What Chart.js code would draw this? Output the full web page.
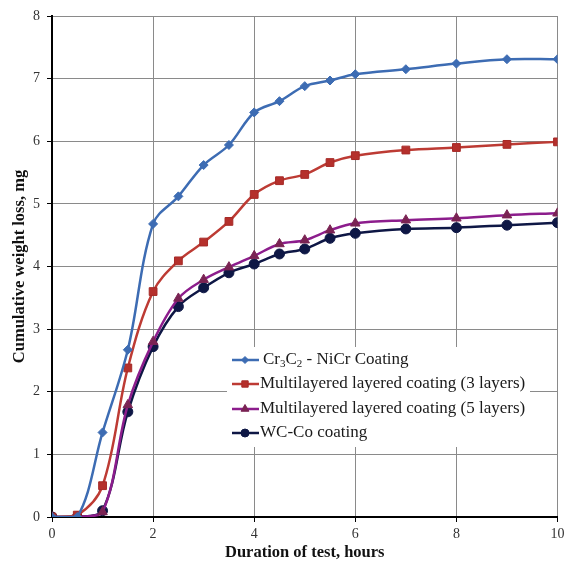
<!DOCTYPE html>
<html>
<head>
<meta charset="utf-8">
<script src="https://cdn.jsdelivr.net/npm/chart.js@4/dist/chart.umd.min.js"></script>
<style>
  body { margin: 0; background: #fff; }
  canvas { display: block; }
</style>
</head>
<body>
<canvas id="chart" width="564" height="563"></canvas>
<script>
// values
var hours = [0, 0.5, 1, 1.5, 2, 2.5, 3, 3.5, 4, 4.5, 5, 5.5, 6, 7, 8, 9, 10];
var cr3c2 = [0, 0, 1.35, 2.67, 4.68, 5.12, 5.62, 5.94, 6.46, 6.64, 6.88, 6.97, 7.07, 7.15, 7.24, 7.31, 7.31];
var layers3 = [0, 0.03, 0.5, 2.38, 3.6, 4.09, 4.39, 4.72, 5.15, 5.37, 5.47, 5.66, 5.77, 5.86, 5.90, 5.95, 5.99];
var layers5 = [0, 0, 0.08, 1.79, 2.8, 3.49, 3.79, 3.99, 4.17, 4.36, 4.42, 4.58, 4.69, 4.74, 4.77, 4.82, 4.85];
var wcco = [0, 0, 0.1, 1.68, 2.72, 3.36, 3.66, 3.90, 4.04, 4.20, 4.28, 4.45, 4.53, 4.60, 4.62, 4.66, 4.70];

var seriesNames = ['Cr3C2 - NiCr Coating', 'Multilayered layered coating (3 layers)',
  'Multilayered layered coating (5 layers)', 'WC-Co coating'];

function toPoints(vals) {
  return vals.map(function(v, i) {
    return { x: hours[i], y: v };
  });
}

var serif = "'Liberation Serif', 'DejaVu Serif', serif";

// legend box drawn inside the plot, like the original
var legendBox = {
  id: 'legendBox',
  afterDatasetsDraw: function(chart) {
    var ctx = chart.ctx;
    ctx.save();
    ctx.fillStyle = '#fff';
    ctx.fillRect(227, 347, 303, 100);
    var rows = [360, 384, 409, 433];
    chart.data.datasets.forEach(function(ds, i) {
      var y = rows[i];
      ctx.strokeStyle = ds.borderColor;
      ctx.lineWidth = 2.5;
      ctx.beginPath();
      ctx.moveTo(232, y);
      ctx.lineTo(259, y);
      ctx.stroke();
      ctx.fillStyle = ds.pointBackgroundColor;
      ctx.strokeStyle = ds.pointBorderColor;
      ctx.lineWidth = 1;
      Chart.helpers.drawPoint(ctx, {
        pointStyle: ds.pointStyle,
        radius: ds.pointRadius - 1,
        rotation: 0,
        borderWidth: 1
      }, 245, y);

      ctx.fillStyle = '#1a1a1a';
      ctx.textBaseline = 'middle';
      ctx.textAlign = 'left';
      var big = '17px ' + serif, small = '11px ' + serif;
      if (i === 0) {
        // Cr3C2 with subscripts
        var parts = [['Cr', big, 0], ['3', small, 4], ['C', big, 0], ['2', small, 4], [' - NiCr Coating', big, 0]];
        var tx = 263;
        parts.forEach(function(p) {
          ctx.font = p[1];
          ctx.fillText(p[0], tx, y + p[2]);
          tx += ctx.measureText(p[0]).width;
        });
      } else {
        ctx.font = big;
        ctx.fillText(seriesNames[i], 260, y);
      }
    });
    ctx.restore();
  }
};

var chart = new Chart('chart', {
  type: 'line',
  data: {
    datasets: [
      {
        label: seriesNames[0],
        data: toPoints(cr3c2),
        borderColor: '#3d6cb3',
        pointBackgroundColor: '#3d6cb3',
        pointBorderColor: '#3d6cb3',
        pointStyle: 'rectRot',
        pointRadius: 4.5
      },
      {
        label: seriesNames[1],
        data: toPoints(layers3),
        borderColor: '#bd3b34',
        pointBackgroundColor: '#b5302c',
        pointBorderColor: '#a62a27',
        pointStyle: 'rect',
        pointRadius: 5.5
      },
      {
        label: seriesNames[2],
        data: toPoints(layers5),
        borderColor: '#8c1d8c',
        pointBackgroundColor: '#7a2353',
        pointBorderColor: '#7a2353',
        pointStyle: 'triangle',
        pointRadius: 5.5
      },
      {
        label: seriesNames[3],
        data: toPoints(wcco),
        borderColor: '#0e1745',
        pointBackgroundColor: '#0e1745',
        pointBorderColor: '#0e1745',
        pointStyle: 'circle',
        pointRadius: 5
      }
    ]
  },
  options: {
    responsive: false,
    animation: false,
    layout: { padding: { top: 16, right: 6, left: 0, bottom: 0 } },
    elements: {
      line: { borderWidth: 2.5, tension: 0.35, fill: false },
      point: { borderWidth: 1 }
    },
    plugins: {
      legend: { display: false },
      tooltip: { enabled: false }
    },
    scales: {
      x: {
        type: 'linear',
        min: 0,
        max: 10,
        afterFit: function(scale) {
          scale.height = 46;
          // let the "10" label run off the edge like the original
          scale.paddingLeft = 0;
          scale.paddingRight = 0;
        },
        ticks: {
          stepSize: 2,
          color: '#333',
          padding: 4,
          font: { family: serif, size: 14 }
        },
        grid: { color: '#8a8a8a', lineWidth: 1, tickLength: 5, tickColor: '#000' },
        border: { color: '#000', width: 2 },
        title: {
          display: true,
          text: 'Duration of test, hours',
          color: '#111',
          padding: { top: 0, bottom: 0 },
          font: { family: serif, size: 16.5, weight: 'bold' }
        }
      },
      y: {
        min: 0,
        max: 8,
        afterFit: function(scale) {
          scale.width = 52;
          scale.paddingTop = 0;
          scale.paddingBottom = 0;
        },
        ticks: {
          stepSize: 1,
          color: '#333',
          padding: 7,
          font: { family: serif, size: 14 }
        },
        grid: { color: '#8a8a8a', lineWidth: 1, tickLength: 5, tickColor: '#000' },
        border: { color: '#000', width: 2 },
        title: {
          display: true,
          text: 'Cumulative weight loss, mg',
          color: '#111',
          padding: { top: 10, bottom: 0 },
          font: { family: serif, size: 16.5, weight: 'bold' }
        }
      }
    }
  },
  plugins: [legendBox]
});
</script>
</body>
</html>
